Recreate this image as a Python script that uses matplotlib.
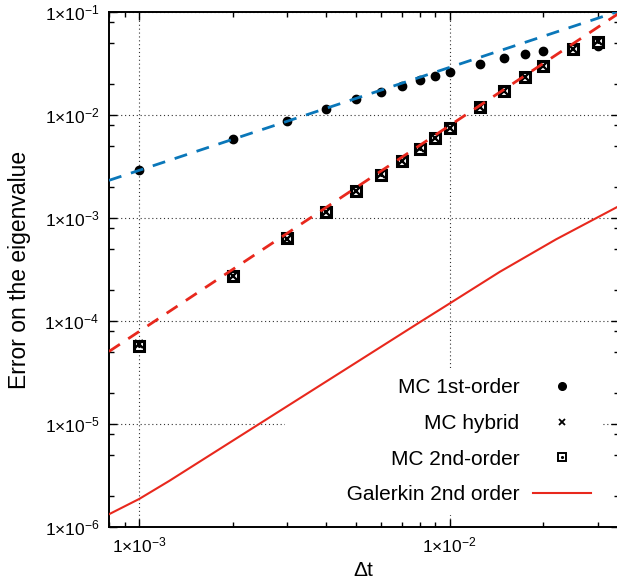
import numpy as np
import matplotlib
matplotlib.use('Agg')
import matplotlib.pyplot as plt
from matplotlib import rcParams
from matplotlib.ticker import LogLocator, FuncFormatter, NullFormatter
from matplotlib.lines import Line2D
from matplotlib.legend_handler import HandlerTuple

rcParams['font.family'] = ['Liberation Sans', 'DejaVu Sans']
rcParams['mathtext.fontset'] = 'custom'
rcParams['mathtext.rm'] = 'Liberation Sans'
rcParams['mathtext.it'] = 'Liberation Sans:italic'
rcParams['mathtext.bf'] = 'Liberation Sans:bold'

# time steps of the Monte Carlo runs
dt_mc = [0.001, 0.002, 0.003, 0.004, 0.005, 0.006, 0.007, 0.008, 0.009,
         0.010, 0.0125, 0.015, 0.0175, 0.020, 0.025, 0.030]
err_1st = [2.92e-3, 5.85e-3, 8.75e-3, 1.14e-2, 1.43e-2, 1.67e-2, 1.91e-2, 2.17e-2,
           2.39e-2, 2.63e-2, 3.15e-2, 3.55e-2, 3.91e-2, 4.18e-2, 4.45e-2, 4.71e-2]
err_hyb = [6.0e-5, 2.75e-4, 6.3e-4, 1.15e-3, 1.82e-3, 2.65e-3, 3.55e-3, 4.73e-3,
           6.0e-3, 7.55e-3, 1.20e-2, 1.71e-2, 2.33e-2, 3.0e-2, 4.37e-2, 5.2e-2]
err_2nd = [5.7e-5, 2.73e-4, 6.35e-4, 1.14e-3, 1.83e-3, 2.64e-3, 3.57e-3, 4.71e-3,
           6.02e-3, 7.53e-3, 1.19e-2, 1.72e-2, 2.32e-2, 3.01e-2, 4.35e-2, 5.15e-2]

# Galerkin reference
dt_gal = [0.0008, 0.001, 0.00125, 0.00225, 0.005, 0.008, 0.010, 0.0145, 0.022, 0.035]
err_gal = [1.33e-6, 1.87e-6, 2.80e-6, 8.6e-6, 3.95e-5, 9.7e-5, 1.48e-4, 3.0e-4, 6.2e-4, 1.30e-3]

# guide lines, order 1 and order 2
dt_ref = [0.0008, 0.035]
ref_1st = [2.32e-3, 0.1015]
ref_2nd = [5.06e-5, 0.0968]

labels = ['MC 1st-order', 'MC hybrid', 'MC 2nd-order', '         Galerkin 2nd order']

blue = '#0a77b9'
red = '#e8281d'

fig = plt.figure(figsize=(6.17, 5.81), dpi=100)
ax = fig.add_axes([109/617, 54/581, 509.6/617, 515/581])
ax.set_xscale('log')
ax.set_yscale('log')

ax.plot(dt_mc, err_1st, ls='none', marker='o', ms=6, color='black', zorder=3)
ax.plot(dt_mc, err_2nd, ls='none', marker='s', ms=7, mfc='white', mec='black', mew=2.2, zorder=3)
ax.plot(dt_mc, err_hyb, ls='none', marker='x', ms=6, mew=1.7, color='black', zorder=3)
ax.plot(dt_mc, err_2nd, ls='none', marker='.', ms=2.5, color='black', zorder=3)

ax.plot(dt_ref, ref_1st, color=blue, lw=2.0, dashes=(4.7, 3.6), zorder=4)
ax.plot(dt_ref, ref_2nd, color=red, lw=2.0, dashes=(4.7, 3.6), zorder=4)
gal, = ax.plot(dt_gal, err_gal, color=red, lw=1.5, zorder=4)

ax.set_xlim(8e-4, 0.035)
ax.set_ylim(1e-6, 1e-1)

def sci(v, pos):
    e = int(round(np.log10(v)))
    return r'$\mathregular{1{\times}10^{%d}}$' % e

ax.xaxis.set_major_locator(LogLocator(base=10, numticks=10))
ax.xaxis.set_minor_locator(LogLocator(base=10, subs=np.arange(2, 10), numticks=20))
ax.yaxis.set_major_locator(LogLocator(base=10, numticks=10))
ax.yaxis.set_minor_locator(LogLocator(base=10, subs=[2, 5, 8], numticks=20))
ax.xaxis.set_major_formatter(FuncFormatter(sci))
ax.yaxis.set_major_formatter(FuncFormatter(sci))
ax.xaxis.set_minor_formatter(NullFormatter())
ax.yaxis.set_minor_formatter(NullFormatter())

ax.tick_params(which='both', direction='in', top=True, right=True, width=1.0, colors='black')
ax.tick_params(which='major', length=6, labelsize=12.5)
ax.tick_params(axis='y', which='major', pad=7)
ax.tick_params(axis='x', which='major', pad=6)
ax.tick_params(which='minor', length=3.5)

for s in ax.spines.values():
    s.set_linewidth(1.4)

ax.set_axisbelow(True)
ax.grid(True, which='major', color='#333333', linestyle=(0, (1, 2.5)), linewidth=0.8)

ax.set_xlabel('Δt', fontsize=15)
ax.xaxis.set_label_coords(0.5, -0.066)
ax.set_ylabel('Error on the eigenvalue', fontsize=16.5)
ax.yaxis.set_label_coords(-0.154, 0.5)

h1 = Line2D([], [], ls='none', marker='o', ms=5.5, color='black')
h2 = Line2D([], [], ls='none', marker='x', ms=5, mew=1.3, color='black')
h3 = Line2D([], [], ls='none', marker='s', ms=5.5, mfc='white', mec='black', mew=1.4)
h3d = Line2D([], [], ls='none', marker='.', ms=2.5, color='black')

leg = ax.legend([h1, h2, (h3, h3d), gal], labels, loc='upper right',
                bbox_to_anchor=(601/617, 1 - 368/581), bbox_transform=fig.transFigure,
                borderaxespad=0, borderpad=0.5, labelspacing=0.8,
                handlelength=2.75, handletextpad=0.66, markerfirst=False,
                frameon=True, fancybox=False, edgecolor='none', facecolor='white',
                framealpha=1, fontsize=15,
                handler_map={tuple: HandlerTuple(ndivide=1, pad=0)})
leg.set_zorder(1)

plt.savefig('out.png', dpi=100)
